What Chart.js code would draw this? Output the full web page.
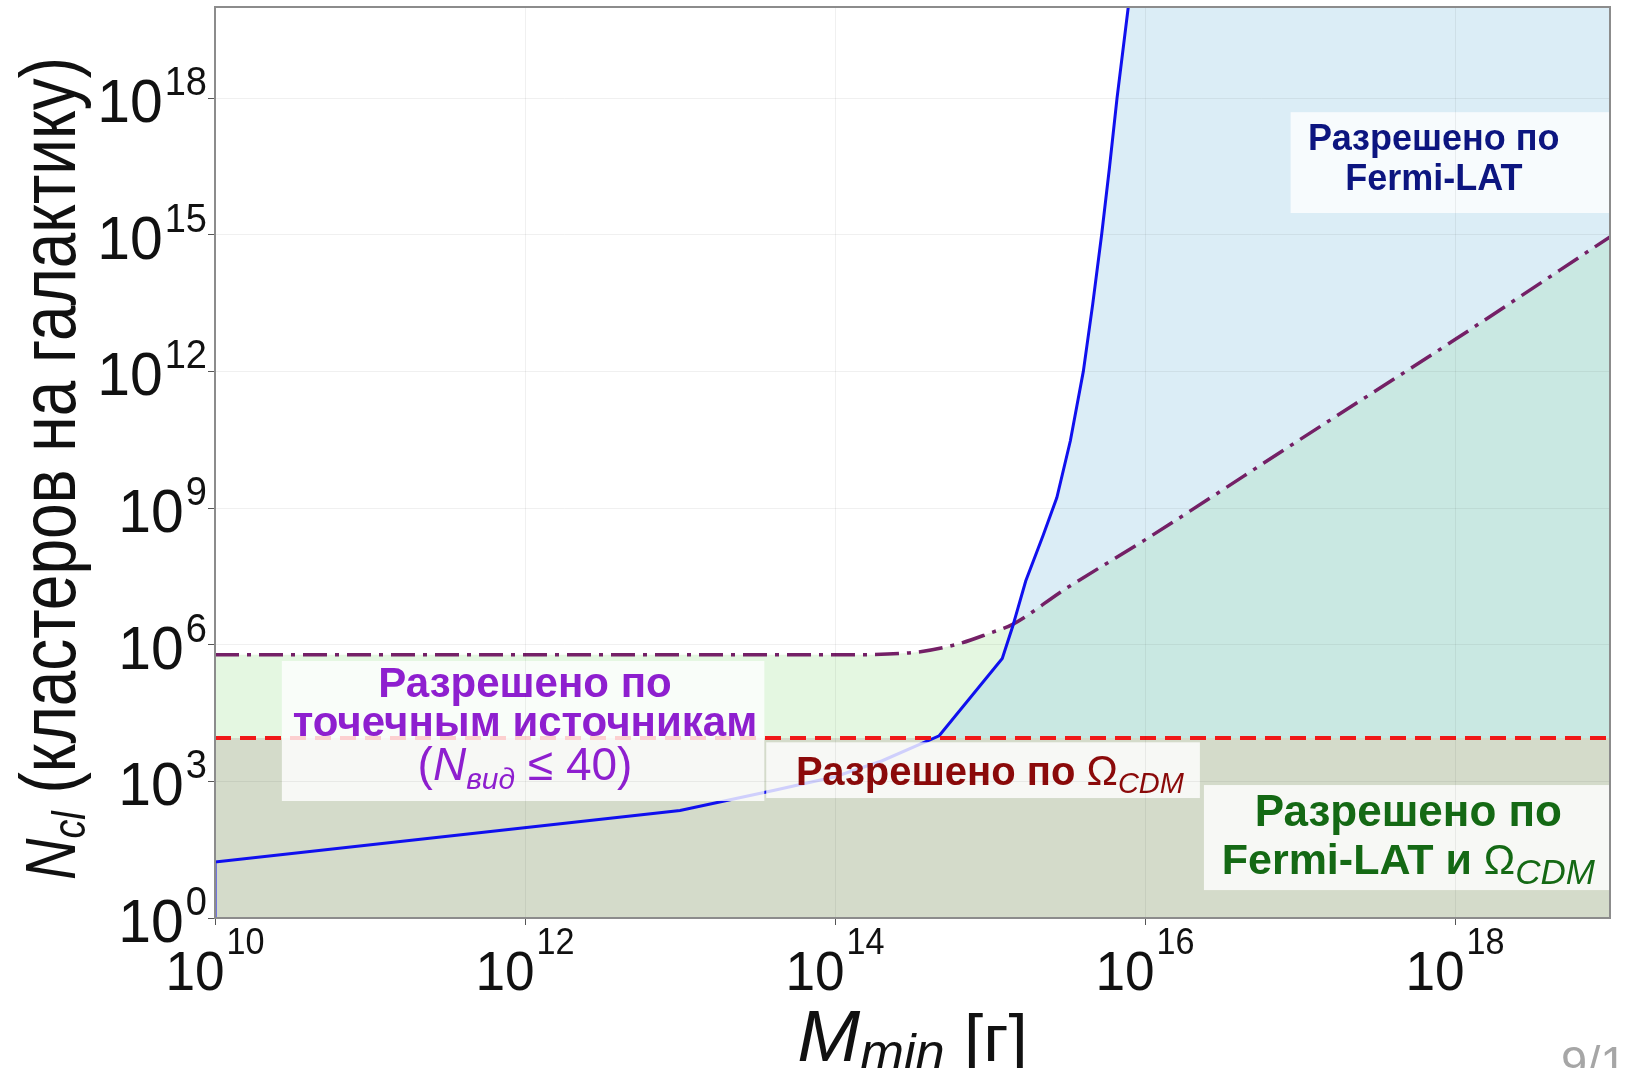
<!DOCTYPE html>
<html>
<head>
<meta charset="utf-8">
<script src="https://cdn.jsdelivr.net/npm/chart.js@4.4.1/dist/chart.umd.min.js"></script>
<style>
  html, body { margin: 0; padding: 0; background: #fff; }
  canvas { display: block; }
</style>
</head>
<body>
<canvas id="chart" width="1626" height="1068"></canvas>
<script>
// decades labelled on the axes
const xTickExps = [10, 12, 14, 16, 18];
const yTickExps = [0, 3, 6, 9, 12, 15, 18];

// Fermi-LAT bound (solid blue)
const fermiMass = [1e10, 1e10, 1e13, 4e13, 1e14, 2e14, 4.7e14, 1.2e15, 1.4e15, 1.7e15, 2.2e15, 2.7e15, 3.3e15, 4e15, 4.6e15, 5.25e15, 5.9e15, 6.6e15, 7.8e15, 9e15, 1e19];
const fermiN = [1, 17, 230, 630, 1260, 2800, 1e4, 5e5, 2.5e6, 2.5e7, 2.5e8, 1.7e9, 3e10, 1e12, 3e13, 1e15, 3e16, 1e18, 1e20, 1e22, 1e40];

// point sources bound (dash-dot)
const psMass = [1e10, 1e14, 3e14, 6e14, 1e15, 1.4e15, 3e15, 1e16, 1e17, 1e18, 1e19];
const psN = [6e5, 6e5, 6.6e5, 1e6, 1.8e6, 2.8e6, 1.6e7, 2e8, 3.2e10, 5e12, 9e14];

// Omega_CDM bound (red dashed)
const cdmMass = [1e10, 1e19];
const cdmN = [9e3, 9e3];

const FONT = "'Liberation Sans', Arial, sans-serif";

function toPoints(xs, ys) {
  return xs.map((x, i) => ({ x: x, y: ys[i] }));
}

// text boxes: edges in data units, baselines in px below the box top
const notes = [
  {
    color: "#8e1fcf", x0: 2.7e10, x1: 3.5e13, yTop: 4.4e5, yBot: 370, textX: 1e12,
    lines: [
      { dy: 36, runs: [{ t: "Разрешено по", f: "bold 42px " + FONT }] },
      { dy: 75, runs: [{ t: "точечным источникам", f: "bold 42px " + FONT }] },
      { dy: 119, runs: [{ t: "(", f: "46px " + FONT }, { t: "N", f: "italic 46px " + FONT },
        { t: "вид", f: "italic 30px " + FONT, o: 9 }, { t: " ≤ 40)", f: "46px " + FONT }] }
    ]
  },
  {
    color: "#8b0a0a", x0: 3.6e13, x1: 2.26e16, yTop: 7.2e3, yBot: 430, textX: 1e15,
    lines: [
      { dy: 43, runs: [{ t: "Разрешено по ", f: "bold 40px " + FONT }, { t: "Ω", f: "42px " + FONT },
        { t: "CDM", f: "italic 29px " + FONT, o: 8 }] }
    ]
  },
  {
    color: "#0c1580", x0: 8.7e16, x1: 1e20, yTop: 4.9e17, yBot: 3e15, textX: 7.3e17,
    lines: [
      { dy: 38, runs: [{ t: "Разрешено по", f: "bold 36px " + FONT }] },
      { dy: 78, runs: [{ t: "Fermi-LAT", f: "bold 36px " + FONT }] }
    ]
  },
  {
    color: "#146914", x0: 2.4e16, x1: 1e20, yTop: 830, yBot: 4.1, textX: 5e17,
    lines: [
      { dy: 41, runs: [{ t: "Разрешено по", f: "bold 44px " + FONT }] },
      { dy: 89, runs: [{ t: "Fermi-LAT и ", f: "bold 43px " + FONT }, { t: "Ω", f: "42px " + FONT },
        { t: "CDM", f: "italic 35px " + FONT, o: 10 }] }
    ]
  }
];

function runsWidth(ctx, runs) {
  let w = 0;
  runs.forEach(r => { ctx.font = r.f; w += ctx.measureText(r.t).width; });
  return w;
}

// draws runs of text starting at local x=0 on the baseline
function drawRuns(ctx, runs, color) {
  let cx = 0;
  runs.forEach(r => {
    ctx.font = r.f;
    ctx.fillStyle = r.c || color;
    ctx.fillText(r.t, cx, r.o || 0);
    cx += ctx.measureText(r.t).width;
  });
}

function drawPower(ctx, exp, x, y, mode) {
  const big = mode === "y" ? 62 : 56;
  const small = mode === "y" ? 40 : 36;
  const base = [{ t: "10", f: big + "px " + FONT }];
  const sup = [{ t: String(exp), f: small + "px " + FONT }];
  const sx = 0.95;
  const wb = runsWidth(ctx, base) * sx;
  const ws = runsWidth(ctx, sup) * sx;
  const w = wb + 2 + ws;
  let left, baseY, supY;
  if (mode === "y") {
    left = x - w; baseY = y + 24; supY = y - 3;
  } else {
    left = x - w / 2; baseY = y + 72; supY = y + 36;
  }
  ctx.save();
  ctx.translate(left, baseY);
  ctx.scale(sx, 1);
  drawRuns(ctx, base, "#111");
  ctx.restore();
  ctx.save();
  ctx.translate(left + wb + 2, supY);
  ctx.scale(sx, 1);
  drawRuns(ctx, sup, "#111");
  ctx.restore();
}

const decorations = {
  id: "decorations",
  afterDatasetsDraw(chart) {
    const ctx = chart.ctx;
    const a = chart.chartArea;
    const xs = chart.scales.x, ys = chart.scales.y;
    ctx.save();
    ctx.beginPath();
    ctx.rect(a.left, a.top, a.right - a.left, a.bottom - a.top);
    ctx.clip();
    ctx.textAlign = "left";
    ctx.textBaseline = "alphabetic";
    notes.forEach(n => {
      const bx0 = xs.getPixelForValue(n.x0), bx1 = xs.getPixelForValue(n.x1);
      const by0 = ys.getPixelForValue(n.yTop), by1 = ys.getPixelForValue(n.yBot);
      ctx.fillStyle = "rgba(255,255,255,0.8)";
      ctx.fillRect(bx0, by0, bx1 - bx0, by1 - by0);
      const cx = xs.getPixelForValue(n.textX);
      n.lines.forEach(l => {
        const w = runsWidth(ctx, l.runs);
        ctx.save();
        ctx.translate(cx - w / 2, by0 + l.dy);
        drawRuns(ctx, l.runs, n.color);
        ctx.restore();
      });
    });
    ctx.restore();
  },
  afterDraw(chart) {
    const ctx = chart.ctx;
    const a = chart.chartArea;
    const xs = chart.scales.x, ys = chart.scales.y;
    ctx.save();
    ctx.strokeStyle = "#8c8c8c";
    ctx.lineWidth = 2;
    ctx.strokeRect(a.left, a.top, a.right - a.left, a.bottom - a.top);
    ctx.textAlign = "left";
    ctx.textBaseline = "alphabetic";

    xs.ticks.forEach(t => {
      drawPower(ctx, Math.round(Math.log10(t.value)), xs.getPixelForValue(t.value), a.bottom, "x");
    });
    ys.ticks.forEach(t => {
      drawPower(ctx, Math.round(Math.log10(t.value)), a.left - 8, ys.getPixelForValue(t.value), "y");
    });

    // x axis title
    const xRuns = [
      { t: "M", f: "italic 72px " + FONT },
      { t: "min", f: "italic 50px " + FONT, o: 8 },
      { t: " [г]", f: "66px " + FONT }
    ];
    const xw = runsWidth(ctx, xRuns) * 1.05;
    ctx.save();
    ctx.translate((a.left + a.right) / 2 - xw / 2, 1061);
    ctx.scale(1.05, 1);
    drawRuns(ctx, xRuns, "#111");
    ctx.restore();

    // y axis title, rotated
    const yRuns = [
      { t: "N", f: "italic 70px " + FONT },
      { t: "cl", f: "italic 46px " + FONT, o: 10 },
      { t: " (кластеров на галактику)", f: "78px " + FONT }
    ];
    const ysx = 0.82;
    const yw = runsWidth(ctx, yRuns) * ysx;
    ctx.save();
    ctx.translate(75, (a.top + a.bottom) / 2 + 6);
    ctx.rotate(-Math.PI / 2);
    ctx.translate(-yw / 2, 0);
    ctx.scale(ysx, 1);
    drawRuns(ctx, yRuns, "#111");
    ctx.restore();

    // slide number, cut by the bottom edge
    ctx.font = "47px " + FONT;
    ctx.fillStyle = "#a6a6a6";
    ctx.fillText("9/17", 1561, 1079);
    ctx.restore();
  }
};

const axisGrid = { color: "rgba(0,0,0,0.06)", tickColor: "#555", tickLength: 7, z: 1 };
const axisBorder = { display: true, color: "#666", width: 2, z: 2 };

new Chart(document.getElementById("chart"), {
  type: "line",
  data: {
    datasets: [
      {
        label: "Ω_CDM",
        data: toPoints(cdmMass, cdmN),
        borderColor: "#f01818",
        borderWidth: 4,
        borderDash: [16, 9],
        pointRadius: 0,
        fill: "start",
        backgroundColor: "rgb(212,219,202)",
        order: 0
      },
      {
        label: "Fermi-LAT",
        data: toPoints(fermiMass, fermiN),
        borderColor: "#1010ee",
        borderWidth: 3,
        pointRadius: 0,
        tension: 0,
        fill: "start",
        backgroundColor: "rgba(147,200,228,0.333)",
        order: 1
      },
      {
        label: "точечные источники",
        data: toPoints(psMass, psN),
        borderColor: "#742066",
        borderWidth: 3.5,
        borderDash: [24, 8, 4, 8],
        pointRadius: 0,
        cubicInterpolationMode: "monotone",
        fill: "start",
        backgroundColor: "rgba(130,220,120,0.22)",
        order: 2
      }
    ]
  },
  options: {
    responsive: false,
    animation: false,
    devicePixelRatio: 1,
    layout: { padding: { left: 208, right: 16, top: 7, bottom: 143 } },
    plugins: {
      legend: { display: false },
      tooltip: { enabled: false },
      filler: { drawTime: "beforeDatasetsDraw" }
    },
    scales: {
      x: {
        type: "logarithmic",
        min: 1e10,
        max: 1e19,
        afterBuildTicks: s => { s.ticks = xTickExps.map(e => ({ value: Math.pow(10, e) })); },
        ticks: { display: false },
        grid: axisGrid,
        border: axisBorder
      },
      y: {
        type: "logarithmic",
        min: 1,
        max: 1e20,
        afterBuildTicks: s => { s.ticks = yTickExps.map(e => ({ value: Math.pow(10, e) })); },
        ticks: { display: false },
        grid: axisGrid,
        border: axisBorder
      }
    }
  },
  plugins: [decorations]
});
</script>
</body>
</html>
